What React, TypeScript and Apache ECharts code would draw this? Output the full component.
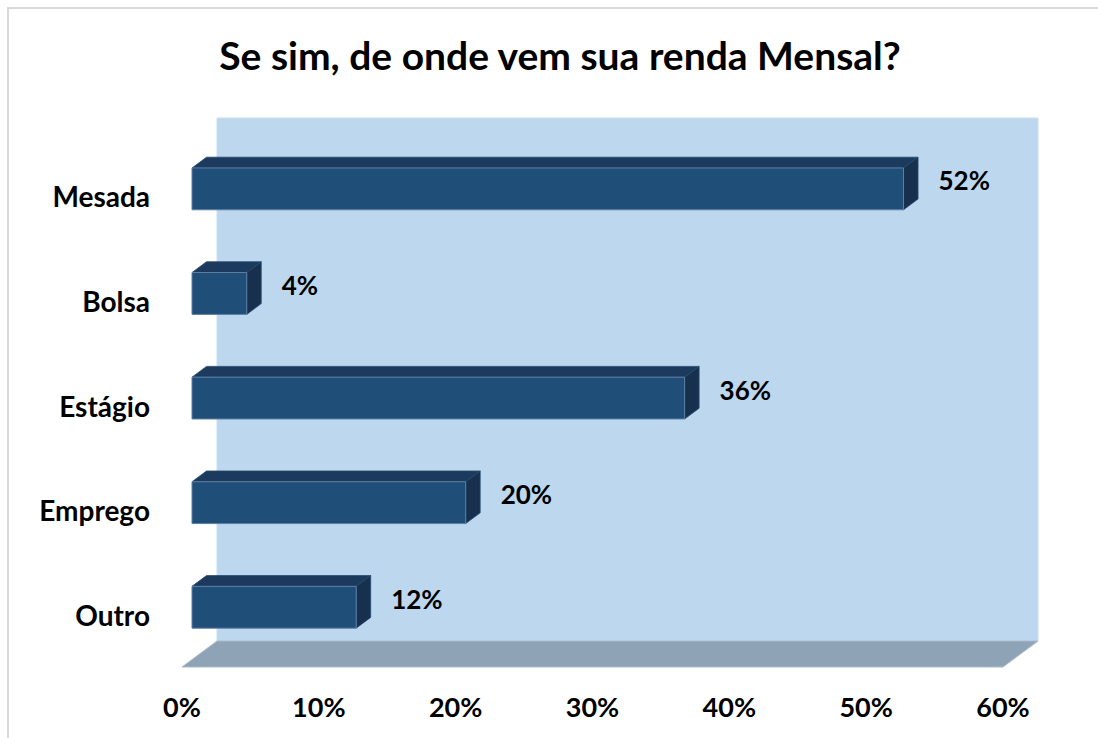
import React, { useEffect, useRef } from "react";
import * as echarts from "echarts";

const TITLE = "Se sim, de onde vem sua renda Mensal?";
const categories = ["Mesada", "Bolsa", "Estágio", "Emprego", "Outro"];
const values = [52, 4, 36, 20, 12];
const AXIS_MIN = 0;
const AXIS_MAX = 60;
const AXIS_STEP = 10;

const FONT = "Lato, 'Open Sans', sans-serif";
const DEPTH_X = 35;
const DEPTH_Y = -26;
const BAR_FRONT = 0.286;
const BAR_BACK = 0.7;
const BAR_RATIO = 0.4;

export default function App() {
  const ref = useRef<HTMLDivElement>(null);
  useEffect(() => {
    if (!ref.current) return;
    const chart = echarts.init(ref.current, null, { renderer: "svg" });
    const option: any = {
      animation: false,
      backgroundColor: "#ffffff",
      title: {
        text: TITLE,
        left: 555,
        top: 30,
        textAlign: "center",
        textStyle: { fontFamily: FONT, fontWeight: "bold", fontSize: 39, color: "#000000" },
      },
      graphic: [
        {
          type: "rect",
          shape: { x: 8, y: 8, width: 1100, height: 740 },
          style: { fill: "none", stroke: "#D9D9D9", lineWidth: 2 },
          silent: true,
          z: 100,
        },
      ],
      grid: { left: 182, right: 95, top: 144, bottom: 71, containLabel: false },
      xAxis: {
        type: "value",
        min: AXIS_MIN,
        max: AXIS_MAX,
        interval: AXIS_STEP,
        axisLine: { show: false },
        axisTick: { show: false },
        splitLine: { show: false },
        axisLabel: {
          formatter: "{value}%",
          margin: 26,
          fontFamily: FONT,
          fontWeight: "bold",
          fontSize: 27,
          color: "#000000",
        },
      },
      yAxis: {
        type: "category",
        data: categories,
        inverse: true,
        axisLine: { show: false },
        axisTick: { show: false },
        splitLine: { show: false },
        axisLabel: {
          margin: 32,
          fontFamily: FONT,
          fontWeight: "bold",
          fontSize: 28,
          color: "#000000",
        },
      },
      series: [
        {
          type: "custom",
          name: "wall",
          silent: true,
          clip: false,
          z: 1,
          data: [[0, 0]],
          encode: { x: 0, y: 1 },
          renderItem: (params: any) => {
            const cs = params.coordSys;
            const x0 = cs.x, y0 = cs.y, w = cs.width, h = cs.height;
            return {
              type: "group",
              children: [
                {
                  type: "rect",
                  shape: { x: x0 + DEPTH_X, y: y0 + DEPTH_Y, width: w, height: h },
                  style: { fill: "#BDD7EE", stroke: "#C9DDF0", lineWidth: 1 },
                },
                {
                  type: "polygon",
                  shape: {
                    points: [
                      [x0 + DEPTH_X, y0 + h + DEPTH_Y],
                      [x0 + w + DEPTH_X, y0 + h + DEPTH_Y],
                      [x0 + w, y0 + h],
                      [x0, y0 + h],
                    ],
                  },
                  style: { fill: "#8EA3B5", stroke: "#A9BBCB", lineWidth: 1 },
                },
              ],
            };
          },
        },
        {
          type: "custom",
          name: "bars",
          clip: false,
          z: 2,
          data: values.map((v, i) => [v, i]),
          encode: { x: 0, y: 1 },
          renderItem: (params: any, api: any) => {
            const v = api.value(0);
            const c = api.value(1);
            const p0 = api.coord([0, c]);
            const p1 = api.coord([v, c]);
            const band = api.size([0, 1])[1];
            const h = band * BAR_RATIO;
            const fx0 = p0[0] + DEPTH_X * BAR_FRONT;
            const fx1 = p1[0] + DEPTH_X * BAR_FRONT;
            const fy = p0[1] + DEPTH_Y * BAR_FRONT - h / 2;
            const bdx = DEPTH_X * (BAR_BACK - BAR_FRONT);
            const bdy = DEPTH_Y * (BAR_BACK - BAR_FRONT);
            return {
              type: "group",
              children: [
                {
                  type: "polygon",
                  shape: {
                    points: [
                      [fx0, fy],
                      [fx0 + bdx, fy + bdy],
                      [fx1 + bdx, fy + bdy],
                      [fx1, fy],
                    ],
                  },
                  style: { fill: "#1B3A5D", stroke: "#27496F", lineWidth: 0.8 },
                },
                {
                  type: "polygon",
                  shape: {
                    points: [
                      [fx1, fy],
                      [fx1 + bdx, fy + bdy],
                      [fx1 + bdx, fy + bdy + h],
                      [fx1, fy + h],
                    ],
                  },
                  style: { fill: "#16304E", stroke: "#27496F", lineWidth: 0.8 },
                },
                {
                  type: "rect",
                  shape: { x: fx0, y: fy, width: fx1 - fx0, height: h },
                  style: { fill: "#1F4E79", stroke: "#5F7FA3", lineWidth: 1 },
                },
                {
                  type: "text",
                  style: {
                    text: v + "%",
                    x: fx1 + 35,
                    y: p0[1] - 16,
                    align: "left",
                    verticalAlign: "middle",
                    fontFamily: FONT,
                    fontWeight: "bold",
                    fontSize: 26,
                    fill: "#000000",
                  },
                },
              ],
            };
          },
        },
      ],
    };
    chart.setOption(option);
    return () => chart.dispose();
  }, []);
  return (
    <div
      ref={ref}
      style={{ position: "absolute", left: 0, top: 0, width: 1098, height: 738 }}
    />
  );
}
